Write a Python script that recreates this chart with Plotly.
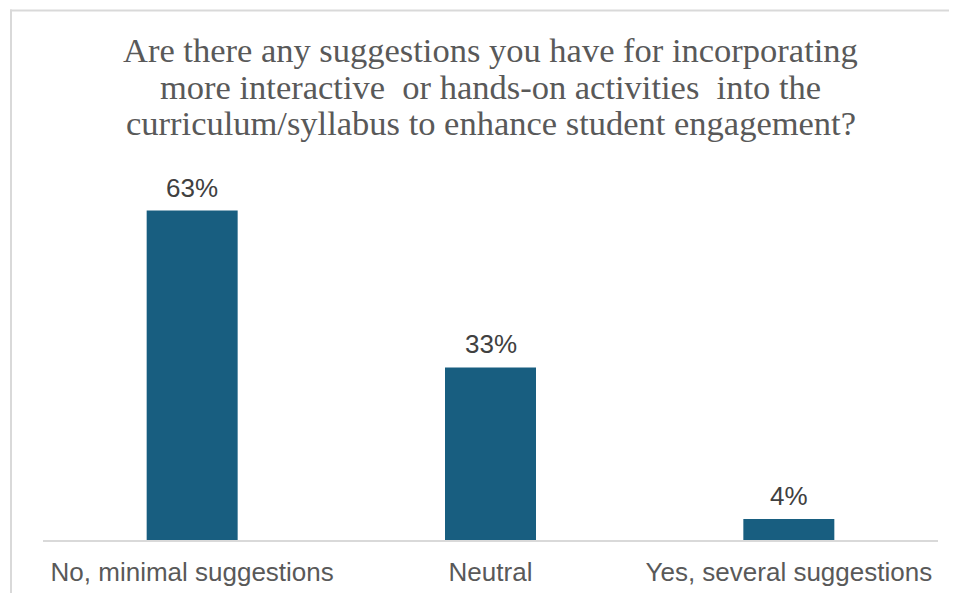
import plotly.graph_objects as go

categories = ["No, minimal suggestions", "Neutral", "Yes, several suggestions"]
values = [63, 33, 4]
labels = ["63%", "33%", "4%"]
title_lines = ["Are there any suggestions you have for incorporating",
               "more interactive  or hands-on activities  into the",
               "curriculum/syllabus to enhance student engagement?"]

# figure is placed by the page at an 8px offset; sizes compensate for it
W, H = 949, 585
L, R, T, B = 35, 19, 166, 53
PW, PH = W - L - R, H - T - B


def px_x(x):
    return (x - L) / PW


def px_y(y):
    return (H - B - y) / PH


fig = go.Figure(go.Bar(
    x=categories, y=values, marker=dict(color="#185E80", line=dict(width=0)),
    width=0.305, hoverinfo="skip"))

for c, v, t in zip(categories, values, labels):
    fig.add_annotation(x=c, y=v, text=t, showarrow=False, yanchor="bottom",
                       yshift=6, font=dict(family="Liberation Sans, Arial", size=26, color="#404040"))

for i, line in enumerate(title_lines):
    fig.add_annotation(xref="paper", yref="paper", x=0.5, y=px_y(42 + 36.5 * i),
                       text=line, showarrow=False, xanchor="center", yanchor="middle",
                       font=dict(family="Liberation Serif, Times New Roman", size=34.5, color="#595959"))

# chart-area border: only top and left edges fall inside the picture
border = dict(color="#D9D9D9", width=2)
fig.add_shape(type="line", xref="paper", yref="paper",
              x0=px_x(2), x1=px_x(W + 20), y0=px_y(2.5), y1=px_y(2.5), line=border)
fig.add_shape(type="line", xref="paper", yref="paper",
              x0=px_x(3), x1=px_x(3), y0=px_y(1.5), y1=px_y(H + 20), line=border)

fig.update_layout(
    width=W, height=H, margin=dict(l=L, r=R, t=T, b=B, autoexpand=False),
    paper_bgcolor="white", plot_bgcolor="white",
    xaxis=dict(showline=True, linecolor="#D9D9D9", linewidth=2, ticks="", automargin=False,
               tickfont=dict(family="Liberation Sans, Arial", size=26, color="#595959"),
               showgrid=False, zeroline=False, fixedrange=True, ticklabelstandoff=8),
    yaxis=dict(range=[0, 70], visible=False, showgrid=False, zeroline=False, automargin=False),
    showlegend=False,
)

fig.write_html("out.html")
